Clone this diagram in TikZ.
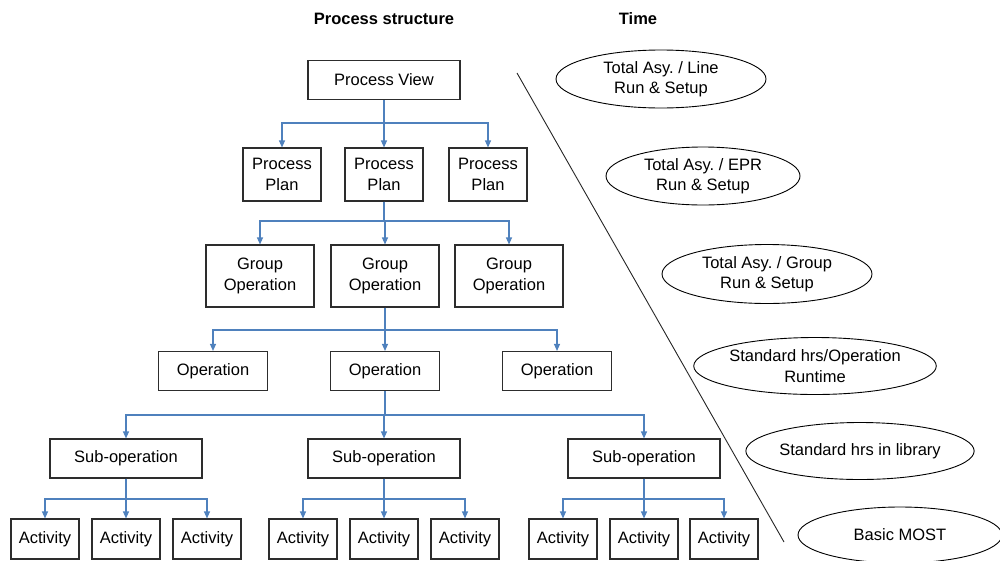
\documentclass[tikz,border=0pt]{standalone}
\usepackage{fontspec}
\setmainfont{Liberation Sans}
\frenchspacing
\usetikzlibrary{arrows.meta,shapes.geometric}
\definecolor{connblue}{RGB}{79,129,189}
\definecolor{boxline}{RGB}{45,45,45}
\tikzset{
  txt/.style={font=\fontsize{16.5}{20.5}\selectfont, align=center},
  box/.style={txt, draw=boxline, line width=1.1pt, rectangle, inner sep=0pt, fill=white},
  pvbox/.style={box, minimum width=152pt, minimum height=39pt},
  ppbox/.style={box, minimum width=78pt, minimum height=53pt},
  gobox/.style={box, minimum width=108pt, minimum height=62pt},
  opbox/.style={box, minimum width=109pt, minimum height=39pt},
  sobox/.style={box, minimum width=152pt, minimum height=39pt},
  acbox/.style={box, minimum width=68pt, minimum height=40pt},
  conn/.style={draw=connblue, line width=1.2pt, -{Triangle[width=6pt,length=7pt]}},
  timeell/.style={txt, ellipse, draw=black, line width=0.9pt, inner sep=0pt},
  title/.style={font=\fontsize{16.5}{20}\selectfont\bfseries}
}
\begin{document}
\begin{tikzpicture}[x=1pt,y=-1pt]
\useasboundingbox (0,0) rectangle (1000,560);
% titles
\node[title] (t1) at (384,19) {Process structure};
\node[title] (t2) at (638,19) {Time};
% divider
\coordinate (d1) at (517,73);
\coordinate (d2) at (784,542);
\draw[line width=0.9pt, black!85] (d1) -- (d2);
% level 0
\node[pvbox] (pv) at (384,80) {Process View};
% level 1
\node[ppbox] (pp1) at (282,174.5) {Process\\Plan};
\node[ppbox] (pp2) at (384,174.5) {Process\\Plan};
\node[ppbox] (pp3) at (488,174.5) {Process\\Plan};
% level 2
\node[gobox] (go1) at (260,276) {Group\\Operation};
\node[gobox] (go2) at (385,276) {Group\\Operation};
\node[gobox] (go3) at (509,276) {Group\\Operation};
% level 3
\node[opbox] (op1) at (213,371) {Operation};
\node[opbox] (op2) at (385,371) {Operation};
\node[opbox] (op3) at (557,371) {Operation};
% level 4
\node[sobox] (so1) at (126,458.5) {Sub-operation};
\node[sobox] (so2) at (384,458.5) {Sub-operation};
\node[sobox] (so3) at (644,458.5) {Sub-operation};
% level 5
\node[acbox] (a1) at (45,539) {Activity};
\node[acbox] (a2) at (126,539) {Activity};
\node[acbox] (a3) at (207,539) {Activity};
\node[acbox] (a4) at (303,539) {Activity};
\node[acbox] (a5) at (384,539) {Activity};
\node[acbox] (a6) at (465,539) {Activity};
\node[acbox] (a7) at (563,539) {Activity};
\node[acbox] (a8) at (644,539) {Activity};
\node[acbox] (a9) at (724,539) {Activity};
% buses
\coordinate (b0) at (384,123);
\coordinate (b1) at (384,221);
\coordinate (b2) at (385,330);
\coordinate (b3) at (385,415);
\coordinate (b41) at (126,499);
\coordinate (b42) at (384,499);
\coordinate (b43) at (644,499);
% connectors
\foreach \c in {pp1,pp2,pp3} \draw[conn] (pv.south) -- (b0) -| (\c.north);
\foreach \c in {go1,go2,go3} \draw[conn] (pp2.south) -- (b1) -| (\c.north);
\foreach \c in {op1,op2,op3} \draw[conn] (go2.south) -- (b2) -| (\c.north);
\foreach \c in {so1,so2,so3} \draw[conn] (op2.south) -- (b3) -| (\c.north);
\foreach \c in {a1,a2,a3} \draw[conn] (so1.south) -- (b41) -| (\c.north);
\foreach \c in {a4,a5,a6} \draw[conn] (so2.south) -- (b42) -| (\c.north);
\foreach \c in {a7,a8,a9} \draw[conn] (so3.south) -- (b43) -| (\c.north);
% time ellipses
\node[timeell, minimum width=210pt, minimum height=58pt] (e1) at (661,79) {Total Asy. / Line\\Run \& Setup};
\node[timeell, minimum width=194pt, minimum height=58pt] (e2) at (703,176) {Total Asy. / EPR\\Run \& Setup};
\node[timeell, minimum width=210pt, minimum height=59pt] (e3) at (767,274) {Total Asy. / Group\\Run \& Setup};
\node[timeell, minimum width=210pt, minimum height=57pt] (e4) at (815,366) {Standard hrs/Operation\\Runtime};
\node[timeell, minimum width=208pt, minimum height=57pt] (e5) at (860,451) {Standard hrs in library};
\node[timeell, minimum width=204pt, minimum height=56pt] (e6) at (900,535) {Basic MOST};
\end{tikzpicture}
\end{document}
